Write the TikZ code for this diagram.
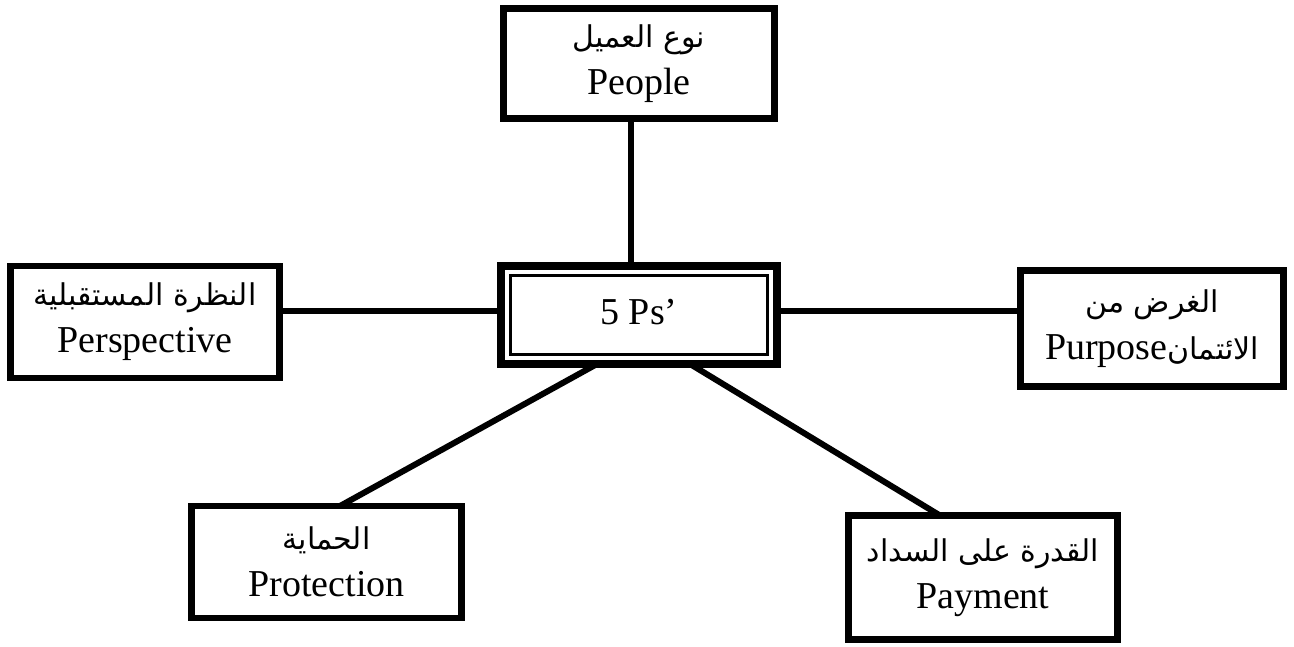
\documentclass[tikz,border=0pt]{standalone}
\usepackage{fontspec}
\setmainfont{Liberation Serif}
\newfontfamily\arabicfont[Script=Arabic]{DejaVu Sans}
\TeXXeTstate=1
% Arabic line, set right to left
\newcommand\artxt[1]{{\arabicfont\fontsize{30}{47}\selectfont\beginR #1\endR}}
\begin{document}
\begin{tikzpicture}[x=1pt,y=-1pt,
  box/.style={draw, line width=6.5pt, rectangle, outer sep=0pt, inner sep=0pt,
    align=center, font=\fontsize{38}{47}\selectfont},
  link/.style={line width=6pt}]
\useasboundingbox (0,0) rectangle (1294,646);

% the five boxes round the centre
\node[box, minimum width=271pt, minimum height=110pt] (ppl) at (639,63.5)
  {\artxt{نوع العميل}\\People};
\node[box, minimum width=269pt, minimum height=112pt] (persp) at (145,322)
  {\artxt{النظرة المستقبلية}\\Perspective};
\node[box, minimum width=263pt, minimum height=116pt] (purp) at (1152,328.5)
  {\artxt{الغرض من}\\{\arabicfont\fontsize{30}{47}\selectfont\beginR الائتمان\beginL{\rmfamily\fontsize{38}{47}\selectfont Purpose}\endL\endR}};
\node[box, minimum width=270pt, minimum height=112pt] (prot) at (326.5,562)
  {\artxt{الحماية}\\Protection};
\node[box, minimum width=269pt, minimum height=124pt] (pay) at (983,577.5)
  {\artxt{القدرة على السداد}\\Payment};

% centre box: thick outer frame with a thin inner frame
\node[box, line width=8pt, minimum width=276pt, minimum height=98pt] (c) at (639,315)
  {\raisebox{6pt}{5 Ps’}};
\draw[line width=2.5pt] ([shift={(9.5,9.5)}]c.north west) rectangle ([shift={(-9.5,-9.5)}]c.south east);

% connectors
\coordinate (hl) at (0,311);
\draw[link] ([xshift=-8pt]ppl.south) -- ([xshift=-8pt]c.north);
\draw[link] (persp.east |- hl) -- (c.west |- hl);
\draw[link] (c.east |- hl) -- (purp.west |- hl);
\draw[link] ([xshift=-42pt]c.south) -- ([xshift=13.5pt]prot.north);
\draw[link] ([xshift=51pt]c.south) -- ([xshift=-43pt]pay.north);
\end{tikzpicture}
\end{document}
